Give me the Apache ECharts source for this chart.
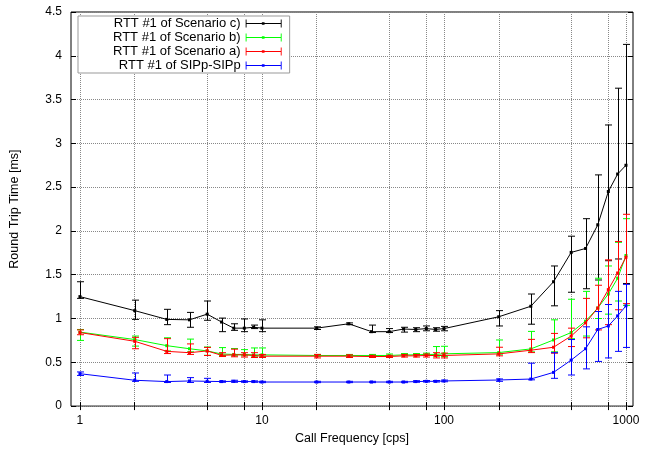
<!DOCTYPE html>
<html>
<head>
<meta charset="utf-8">
<script src="https://cdn.jsdelivr.net/npm/echarts@6/dist/echarts.min.js"></script>
<style>
html, body { margin: 0; padding: 0; background: #fff; }
#rtt { width: 651px; height: 450px; }
</style>
</head>
<body>
<div id="rtt"></div>
<script>
// call frequencies [cps]
var freq = [1, 2, 3, 4, 5, 6, 7, 8, 9, 10, 20, 30, 40, 50, 60, 70, 80, 90, 100,
  200, 300, 400, 500, 600, 700, 800, 900, 1000];

// scenario c)
var cMean = [1.25, 1.09, 0.99, 0.985, 1.05, 0.96, 0.89, 0.89, 0.90, 0.89, 0.89, 0.94, 0.85, 0.85, 0.88, 0.875, 0.885, 0.875, 0.885,
  1.02, 1.14, 1.42, 1.755, 1.80, 2.07, 2.45, 2.65, 2.75];
var cLow = [1.23, 0.99, 0.93, 0.90, 0.98, 0.85, 0.865, 0.85, 0.885, 0.85, 0.875, 0.93, 0.84, 0.84, 0.845, 0.85, 0.86, 0.855, 0.86,
  0.915, 0.935, 1.145, 1.30, 1.34, 1.44, 1.66, 1.68, 1.40];
var cHigh = [1.42, 1.21, 1.105, 1.07, 1.20, 1.005, 0.94, 0.995, 0.925, 0.985, 0.905, 0.95, 0.925, 0.885, 0.90, 0.895, 0.915, 0.895, 0.91,
  1.09, 1.28, 1.60, 1.94, 2.14, 2.64, 3.21, 3.63, 4.13];

// scenario b)
var bMean = [0.845, 0.76, 0.69, 0.655, 0.63, 0.595, 0.59, 0.59, 0.585, 0.585, 0.578, 0.578, 0.578, 0.578, 0.585, 0.585, 0.59, 0.59, 0.597,
  0.611, 0.653, 0.755, 0.84, 0.97, 1.12, 1.28, 1.46, 1.72];
var bLow = [0.75, 0.685, 0.63, 0.62, 0.58, 0.578, 0.575, 0.575, 0.57, 0.57, 0.57, 0.57, 0.57, 0.57, 0.575, 0.575, 0.58, 0.57, 0.565,
  0.593, 0.619, 0.62, 0.77, 0.80, 1.00, 1.05, 1.20, 1.15];
var bHigh = [0.875, 0.80, 0.78, 0.765, 0.675, 0.668, 0.657, 0.645, 0.664, 0.664, 0.59, 0.59, 0.59, 0.595, 0.60, 0.60, 0.605, 0.68, 0.683,
  0.755, 0.853, 0.985, 1.22, 1.31, 1.46, 1.60, 1.87, 2.14];

// scenario a)
var aMean = [0.84, 0.74, 0.625, 0.61, 0.63, 0.58, 0.585, 0.585, 0.578, 0.57, 0.57, 0.57, 0.566, 0.566, 0.574, 0.574, 0.578, 0.578, 0.578,
  0.596, 0.638, 0.672, 0.80, 0.95, 1.12, 1.33, 1.52, 1.70];
var aLow = [0.815, 0.655, 0.60, 0.59, 0.578, 0.566, 0.563, 0.56, 0.555, 0.555, 0.55, 0.555, 0.555, 0.555, 0.56, 0.56, 0.56, 0.55, 0.55,
  0.574, 0.611, 0.604, 0.68, 0.78, 0.87, 0.93, 1.10, 1.17];
var aHigh = [0.87, 0.785, 0.77, 0.71, 0.67, 0.61, 0.65, 0.61, 0.61, 0.59, 0.59, 0.585, 0.58, 0.58, 0.59, 0.59, 0.595, 0.61, 0.605,
  0.672, 0.762, 0.83, 0.89, 1.23, 1.38, 1.67, 1.88, 2.19];

// SIPp-SIPp
var sMean = [0.37, 0.295, 0.28, 0.287, 0.283, 0.28, 0.283, 0.28, 0.28, 0.275, 0.275, 0.275, 0.275, 0.275, 0.275, 0.28, 0.283, 0.283, 0.287,
  0.298, 0.309, 0.385, 0.525, 0.655, 0.875, 0.915, 1.03, 1.145];
var sLow = [0.35, 0.283, 0.27, 0.27, 0.27, 0.272, 0.272, 0.272, 0.272, 0.268, 0.268, 0.268, 0.268, 0.268, 0.268, 0.272, 0.275, 0.275, 0.278,
  0.283, 0.30, 0.317, 0.355, 0.425, 0.51, 0.55, 0.625, 0.67];
var sHigh = [0.39, 0.378, 0.355, 0.325, 0.317, 0.288, 0.295, 0.288, 0.288, 0.283, 0.283, 0.283, 0.283, 0.283, 0.283, 0.29, 0.292, 0.292, 0.297,
  0.31, 0.49, 0.61, 0.76, 0.905, 1.08, 1.16, 1.31, 1.39];

var xLabels = [1, 10, 100, 1000];
var xTicks = [1, 2, 5, 8, 10, 20, 50, 80, 100, 200, 500, 800, 1000];

var names = ["RTT #1 of Scenario c)", "RTT #1 of Scenario b)", "RTT #1 of Scenario a)", "RTT #1 of SIPp-SIPp"];
var colors = ["#000000", "#00ff00", "#ff0000", "#0000ff"];
var means = [cMean, bMean, aMean, sMean];
var lows = [cLow, bLow, aLow, sLow];
var highs = [cHigh, bHigh, aHigh, sHigh];

var errIcon = "path://M0,0h1v9h-1zM1,4h38v1h-38zM39,0h1v9h-1zM18,3h3v3h-3z";

function errorBars(color) {
  return function (params, api) {
    var x = api.value(0);
    var lo = api.coord([x, api.value(1)]);
    var hi = api.coord([x, api.value(2)]);
    var px = Math.round(hi[0]) + 0.5;
    var w = 3.5;
    var style = { stroke: color, lineWidth: 1 };
    return {
      type: "group",
      children: [
        { type: "line", shape: { x1: px, y1: hi[1], x2: px, y2: lo[1] }, style: style },
        { type: "line", shape: { x1: px - w, y1: hi[1], x2: px + w, y2: hi[1] }, style: style },
        { type: "line", shape: { x1: px - w, y1: lo[1], x2: px + w, y2: lo[1] }, style: style },
      ],
    };
  };
}

var series = [];
names.forEach(function (name, k) {
  series.push({
    name: name,
    type: "custom",
    renderItem: errorBars(colors[k]),
    encode: { x: 0, y: [1, 2] },
    data: freq.map(function (f, i) { return [f, lows[k][i], highs[k][i]]; }),
    itemStyle: { color: colors[k] },
    z: 2 + k,
    silent: true,
  });
  series.push({
    name: name,
    type: "line",
    data: freq.map(function (f, i) { return [f, means[k][i]]; }),
    symbol: "rect",
    symbolSize: 3,
    lineStyle: { color: colors[k], width: 1 },
    itemStyle: { color: colors[k] },
    z: 2 + k,
    silent: true,
  });
});

var rttChart = echarts.init(document.getElementById("rtt"));
var option = {
  animation: false,
  textStyle: { fontFamily: "Liberation Sans" },
  grid: {
    left: 71,
    right: 18,
    top: 12,
    bottom: 40,
    show: true,
    borderColor: "#000",
    borderWidth: 1,
  },
  legend: {
    orient: "vertical",
    left: 78,
    top: 16,
    align: "right",
    padding: [1, 8, 1, 35],
    itemGap: 1,
    itemWidth: 36,
    itemHeight: 9,
    borderColor: "#999",
    borderWidth: 1,
    backgroundColor: "#fff",
    textStyle: { fontSize: 13, color: "#000", lineHeight: 12 },
    itemStyle: { borderWidth: 0 },
    data: names.map(function (n) { return { name: n, icon: errIcon }; }),
  },
  xAxis: [
    {
      type: "log",
      logBase: 10,
      min: 0.893,
      max: 1093,
      name: "Call Frequency [cps]",
      nameLocation: "middle",
      nameGap: 24,
      nameTextStyle: { fontSize: 12.5, color: "#000" },
      axisLine: { show: false },
      axisTick: { inside: true, length: 4, customValues: xTicks, lineStyle: { color: "#000" } },
      axisLabel: {
        customValues: xLabels,
        color: "#000",
        fontSize: 12,
        margin: 9,
        formatter: function (v) { return String(Math.round(v)); },
      },
      splitLine: { show: true, lineStyle: { type: "dotted", color: "#888" } },
    },
    {
      type: "log",
      logBase: 10,
      min: 0.893,
      max: 1093,
      position: "top",
      axisLine: { show: false },
      axisTick: { inside: true, length: 4, customValues: xTicks, lineStyle: { color: "#000" } },
      axisLabel: { show: false },
      splitLine: { show: false },
    },
  ],
  yAxis: [
    {
      type: "value",
      min: 0,
      max: 4.5,
      interval: 0.5,
      name: "Round Trip Time [ms]",
      nameLocation: "middle",
      nameGap: 50,
      nameTextStyle: { fontSize: 12.5, color: "#000" },
      axisLine: { show: false },
      axisTick: { inside: true, length: 5, lineStyle: { color: "#000" } },
      axisLabel: { color: "#000", fontSize: 12, margin: 9 },
      splitLine: { show: true, lineStyle: { type: "dotted", color: "#888" } },
    },
    {
      type: "value",
      min: 0,
      max: 4.5,
      interval: 0.5,
      position: "right",
      axisLine: { show: false },
      axisTick: { inside: true, length: 5, lineStyle: { color: "#000" } },
      axisLabel: { show: false },
      splitLine: { show: false },
    },
  ],
  series: series,
};
rttChart.setOption(option, true);
</script>
</body>
</html>
